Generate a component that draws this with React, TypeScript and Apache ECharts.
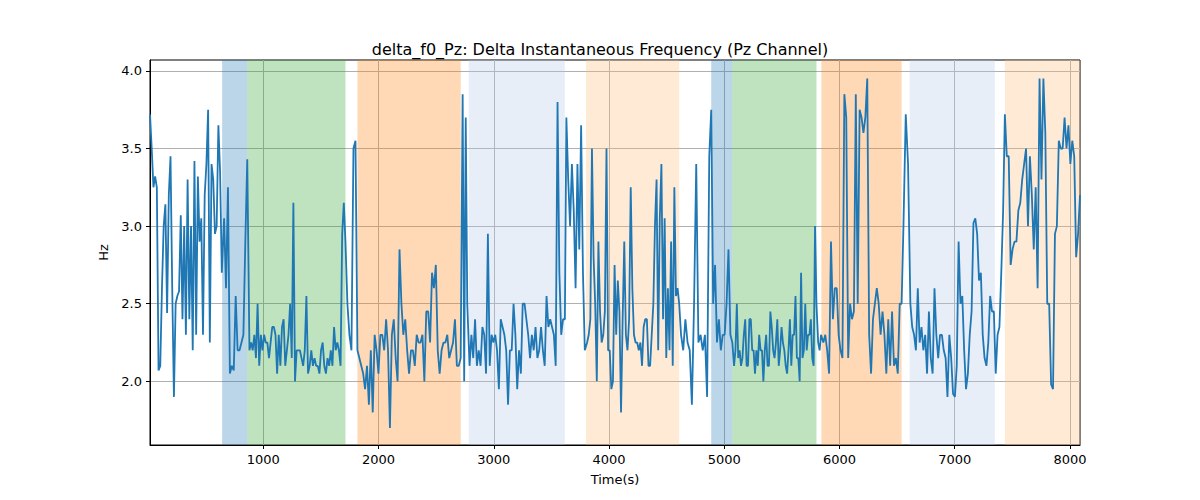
import { useEffect, useRef } from "react";
import * as echarts from "echarts";

// Signal, in segments: [startTime, endTime, values]
const SEGMENTS: [number, number, number[]][] = [
  [17, 640, [3.72, 3.5, 3.25, 3.32, 3.25, 2.07, 2.1, 2.6, 3.0, 3.14, 2.44, 3.2, 3.45, 2.6, 1.9, 2.5, 2.55, 2.58, 3.07, 2.4, 3.0, 2.3, 3.3, 2.4, 3.0, 2.2, 3.42, 2.3, 3.32, 2.9, 3.05, 2.3, 3.2, 3.4, 3.75, 2.25, 3.4, 3.3, 2.95, 3.0, 3.65, 3.35, 2.7]],
  [660, 861, [3.05, 2.6, 3.25, 2.05, 2.1, 2.07, 2.55, 2.2, 2.2, 2.25, 2.3, 2.9, 3.43]],
  [880, 1713, [2.2, 2.25, 2.2, 2.3, 2.15, 2.5, 2.1, 2.3, 2.2, 2.3, 2.25, 2.25, 2.15, 2.25, 2.35, 2.35, 2.3, 2.05, 2.3, 2.1, 2.35, 2.4, 2.1, 2.2, 2.3, 2.5, 2.15, 3.15, 2.0, 2.2, 2.2, 2.2, 2.15, 2.1, 2.2, 2.55, 2.05, 2.1, 2.2, 2.1, 2.15, 2.1, 2.1, 2.05, 2.2, 2.25, 2.1, 2.05, 2.15, 2.1, 2.2, 2.1, 2.35, 2.2, 2.25, 2.2, 2.1, 2.95, 3.15, 2.9]],
  [1730, 1800, [2.5, 2.3, 2.2, 3.5, 3.55]],
  [1817, 2713, [2.2, 2.15, 2.1, 2.05, 1.95, 2.1, 1.85, 2.2, 1.8, 2.3, 2.2, 2.05, 2.3, 2.3, 2.2, 2.4, 2.2, 1.7, 2.3, 2.4, 2.15, 2.0, 2.85, 2.5, 2.3, 2.4, 2.2, 2.05, 2.2, 2.2, 2.1, 2.3, 2.25, 2.25, 2.3, 2.0, 2.45, 2.45, 2.25, 2.7, 2.6, 2.75, 2.2, 2.05, 2.2, 2.25, 2.25, 2.3, 2.15, 2.2, 2.25, 2.4, 2.1, 2.1, 2.15]],
  [2730, 2770, [3.85, 2.0, 3.7, 2.5]],
  [2790, 3617, [2.1, 2.3, 2.15, 2.4, 2.1, 2.2, 2.1, 2.35, 2.3, 2.05, 2.95, 2.1, 2.3, 2.25, 2.3, 2.2, 1.95, 2.4, 2.35, 2.3, 2.2, 1.85, 2.2, 2.2, 2.5, 2.3, 1.95, 2.2, 2.05, 2.5, 2.5, 2.4, 2.3, 2.15, 2.3, 2.2, 2.35, 2.15, 2.2, 2.35, 2.2, 2.1, 2.55, 2.35, 2.4, 2.35, 2.3, 2.1, 3.8, 2.7, 2.3, 2.4, 2.4]],
  [3630, 3790, [3.7, 3.3, 3.0, 3.4, 3.1, 2.6, 3.4, 2.85, 3.65, 2.7, 2.2]],
  [3810, 4609, [2.25, 2.3, 2.4, 3.5, 2.8, 2.5, 2.0, 2.9, 2.45, 2.25, 2.3, 2.45, 3.5, 2.2, 2.2, 1.95, 2.0, 2.75, 2.3, 2.65, 2.45, 1.8, 2.4, 2.9, 2.3, 2.2, 2.4, 3.25, 2.6, 2.3, 2.25, 2.25, 2.2, 2.25, 2.1, 2.35, 2.4, 2.4, 2.1, 2.1, 2.3, 2.5, 3.0, 3.3, 2.2, 3.05, 3.4, 2.4, 3.05, 2.15, 2.6, 2.2, 2.9, 2.1, 3.25, 2.55, 2.6, 2.5]],
  [4625, 4870, [2.3, 2.2, 2.4, 2.25, 2.2, 1.85, 2.5, 3.4, 2.25, 2.3, 2.2, 2.3, 1.9, 3.45]],
  [4887, 5070, [3.75, 2.5, 2.75, 2.25, 2.4, 2.2, 2.3, 2.3, 2.5, 2.85, 2.3, 2.25]],
  [5085, 5800, [2.1, 2.2, 2.5, 2.15, 2.2, 2.1, 2.15, 2.3, 2.4, 2.1, 2.1, 2.4, 2.4, 2.2, 2.2, 2.05, 2.2, 2.1, 2.3, 2.2, 2.2, 2.0, 2.2, 2.3, 2.1, 2.1, 2.45, 2.35, 2.2, 2.15, 2.25, 2.4, 2.1, 2.2, 2.35, 2.25, 2.2, 2.1, 2.05, 2.2, 2.4, 2.1, 2.3, 2.3, 2.55, 2.15, 2.15, 2.0, 2.7, 2.15, 2.2, 2.5, 2.2, 2.3, 2.3, 2.4, 2.15, 2.1, 3.0, 2.5]],
  [5815, 5840, [2.25, 2.2, 2.3]],
  [5860, 6539, [2.25, 2.3, 2.2, 2.05, 2.9, 2.4, 2.6, 2.6, 2.3, 2.2, 2.15, 3.85, 3.7, 2.15, 2.5, 2.4, 2.45, 3.85, 2.5, 3.75, 3.7, 3.6, 3.7, 3.95, 2.3, 2.05, 2.4, 2.5, 2.6, 2.5, 2.3, 2.45, 2.3, 2.05, 2.4, 2.1, 2.45, 2.1, 2.15, 2.05, 2.5, 2.5]],
  [6555, 6595, [3.0, 3.72, 3.4]],
  [6615, 7420, [2.5, 2.35, 2.3, 2.2, 2.6, 2.25, 2.35, 2.2, 2.3, 2.05, 2.45, 2.15, 2.05, 2.6, 2.3, 2.15, 2.3, 2.3, 2.2, 2.15, 1.9, 2.3, 2.15, 1.92, 1.9, 2.1, 2.9, 2.5, 2.55, 2.2, 1.95, 2.05, 2.3, 2.45, 3.02, 3.05, 2.95, 2.65, 2.7, 2.3, 2.15, 2.1, 2.25, 2.55, 2.45, 2.45, 2.05, 2.3, 2.35, 2.7, 3.1]],
  [7435, 8087, [3.72, 3.45, 3.45, 2.75, 2.85, 2.9, 2.9, 3.1, 3.15, 3.3, 3.4, 3.5, 3.0, 3.45, 3.2, 2.85, 3.25, 2.6, 3.95, 3.3, 3.95, 3.6, 2.5, 2.5, 1.98, 1.95, 2.95, 3.0, 3.55, 3.5, 3.5, 3.7, 3.5, 3.65, 3.4, 3.55, 3.45, 2.8, 2.95, 3.2]],
];

// Shaded intervals: [start, end, colour, opacity]
const BANDS: [number, number, string, number][] = [
  [643, 861, "#1f77b4", 0.3],
  [861, 1713, "#2ca02c", 0.3],
  [1817, 2713, "#ff7f0e", 0.3],
  [2783, 3617, "#aec7e8", 0.3],
  [3800, 4609, "#ffbb78", 0.3],
  [4887, 5070, "#1f77b4", 0.3],
  [5070, 5800, "#2ca02c", 0.3],
  [5843, 6539, "#ff7f0e", 0.3],
  [6609, 7348, "#aec7e8", 0.3],
  [7435, 8087, "#ffbb78", 0.3],
];

const X_TICKS = [1000, 2000, 3000, 4000, 5000, 6000, 7000, 8000];
const Y_TICKS = [2.0, 2.5, 3.0, 3.5, 4.0];

function buildPoints(): [number, number][] {
  const pts: [number, number][] = [];
  for (const [a, b, vals] of SEGMENTS) {
    const n = vals.length;
    vals.forEach((v, i) => pts.push([n === 1 ? a : a + ((b - a) * i) / (n - 1), v]));
  }
  return pts;
}

export default function App() {
  const ref = useRef<HTMLDivElement | null>(null);

  useEffect(() => {
    document.body.style.margin = "0";
    if (!ref.current) return;
    const chart = echarts.init(ref.current, undefined, { renderer: "svg" });
    const font = "DejaVu Sans";
    chart.setOption({
      animation: false,
      textStyle: { fontFamily: font },
      title: {
        text: "delta_f0_Pz: Delta Instantaneous Frequency (Pz Channel)",
        left: "center",
        top: 36,
        textStyle: { fontFamily: font, fontSize: 16, fontWeight: "normal", color: "#000" },
      },
      grid: { left: 150, right: 120, top: 60, bottom: 55, show: true, borderColor: "#000", borderWidth: 1 },
      xAxis: {
        type: "value",
        min: 17,
        max: 8087,
        name: "Time(s)",
        nameLocation: "middle",
        nameGap: 28,
        nameTextStyle: { fontSize: 13, color: "#000" },
        axisLine: { onZero: false, lineStyle: { color: "#000" } },
        axisTick: { customValues: X_TICKS, length: 4, lineStyle: { color: "#000" } },
        axisLabel: { customValues: X_TICKS, color: "#000", fontSize: 13, formatter: (v: number) => String(v) },
        splitLine: { show: true, lineStyle: { color: "#b0b0b0", width: 1 } },
      },
      yAxis: {
        type: "value",
        min: 1.59,
        max: 4.07,
        name: "Hz",
        nameLocation: "middle",
        nameGap: 38,
        nameTextStyle: { fontSize: 13, color: "#000" },
        axisLine: { show: true, lineStyle: { color: "#000" } },
        axisTick: { show: true, customValues: Y_TICKS, length: 4, lineStyle: { color: "#000" } },
        axisLabel: { customValues: Y_TICKS, color: "#000", fontSize: 13, formatter: (v: number) => v.toFixed(1) },
        splitLine: { show: true, lineStyle: { color: "#b0b0b0", width: 1 } },
      },
      series: [
        {
          type: "line",
          data: [],
          markArea: {
            silent: true,
            data: BANDS.map(([a, b, c, o]) => [
              { xAxis: a, itemStyle: { color: c, opacity: o } },
              { xAxis: b },
            ]),
          },
        },
        {
          type: "line",
          data: buildPoints(),
          showSymbol: false,
          lineStyle: { color: "#1f77b4", width: 1.8 },
          itemStyle: { color: "#1f77b4" },
        },
      ],
    });
    return () => chart.dispose();
  }, []);

  return <div ref={ref} style={{ width: 1200, height: 500 }} />;
}
